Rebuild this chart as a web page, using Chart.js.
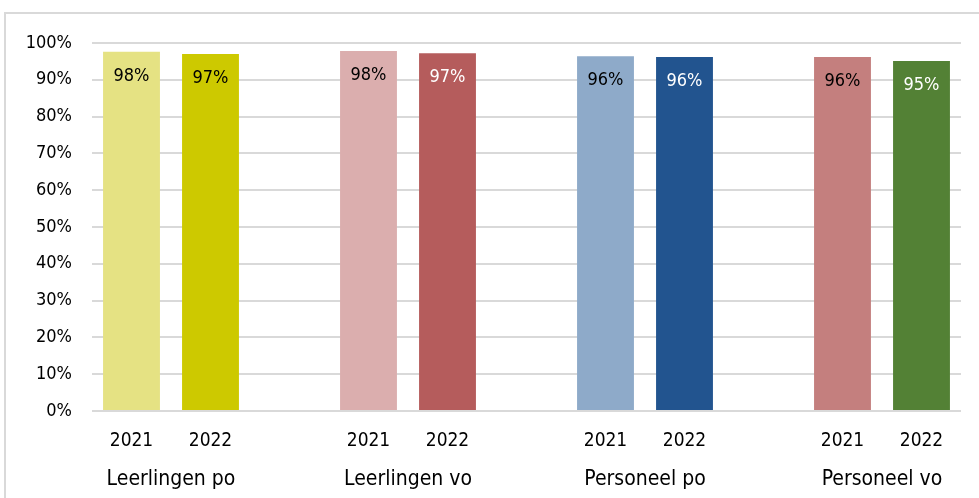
<!DOCTYPE html>
<html>
<head>
<meta charset="utf-8">
<script src="https://cdn.jsdelivr.net/npm/chart.js@4"></script>
<style>
  body { margin: 0; background: #fff; overflow: hidden; }
  #frame { position: absolute; left: 4px; top: 12px; width: 1100px; height: 600px; border: 2px solid #d9d9d9; }
  #wrap { position: absolute; left: 0; top: 0; width: 979px; height: 498px; }
</style>
</head>
<body>
<div id="frame"></div>
<div id="wrap"><canvas id="chart"></canvas></div>
<script>
// Groups and years
const groups = ['Leerlingen po', 'Leerlingen vo', 'Personeel po', 'Personeel vo'];
const years = ['2021', '2022'];
const values2021 = [97.6, 97.8, 96.4, 96.2];
const values2022 = [97.0, 97.2, 96.2, 95.1];
const colors2021 = ['#e5e283', '#dbaeae', '#8eaac9', '#c47f7e'];
const colors2022 = ['#cdc900', '#b55c5c', '#22548f', '#538135'];
const labelColors2021 = ['#000', '#000', '#000', '#000'];
const labelColors2022 = ['#000', '#fff', '#fff', '#fff'];
const yTicks = [0, 10, 20, 30, 40, 50, 60, 70, 80, 90, 100];

// build slots: 2021, 2022, gap, ...
const labels = [], data = [], bg = [], lblColor = [], groupPos = [];
groups.forEach((g, i) => {
    if (i > 0) { labels.push(''); data.push(null); bg.push('transparent'); lblColor.push('#000'); }
    groupPos.push(labels.length + 0.5);
    labels.push(years[0]); data.push(values2021[i]); bg.push(colors2021[i]); lblColor.push(labelColors2021[i]);
    labels.push(years[1]); data.push(values2022[i]); bg.push(colors2022[i]); lblColor.push(labelColors2022[i]);
});

const font = 'DejaVu Sans Condensed';

const barLabels = {
    id: 'barLabels',
    afterDraw(chart) {
        const ctx = chart.ctx;
        const meta = chart.getDatasetMeta(0);
        ctx.save();
        ctx.font = '18px "Liberation Sans Narrow", "' + font + '"';
        ctx.textAlign = 'center';
        ctx.textBaseline = 'middle';
        meta.data.forEach((bar, i) => {
            if (data[i] == null) return;
            ctx.fillStyle = lblColor[i];
            ctx.fillText(Math.round(data[i]) + '%', bar.x, bar.y + 24);
        });
        ctx.restore();
    }
};

const ctx = document.getElementById('chart').getContext('2d');
const chart = new Chart(ctx, {
    type: 'bar',
    data: {
        labels: labels,
        datasets: [{
            data: data,
            backgroundColor: bg,
            barPercentage: 0.72,
            categoryPercentage: 1.0
        }]
    },
    options: {
        responsive: true,
        maintainAspectRatio: false,
        animation: false,
        layout: { padding: { top: 43, right: 18, left: 0, bottom: 0 } },
        plugins: { legend: { display: false }, tooltip: { enabled: false } },
        scales: {
            x: {
                weight: 0,
                grid: { display: false, drawTicks: false },
                border: { display: false },
                ticks: { padding: 19, color: '#000', font: { family: font, size: 19 }, maxRotation: 0, autoSkip: false },
                afterFit(s) { s.height = 38; }
            },
            x2: {
                type: 'linear',
                position: 'bottom',
                weight: 1,
                offset: false,
                min: -0.5,
                max: labels.length - 0.5,
                grid: { display: false, drawTicks: false, offset: false },
                border: { display: false },
                afterBuildTicks(s) { s.ticks = groupPos.map(v => ({ value: v })); },
                ticks: {
                    padding: 18, color: '#000', font: { family: font, size: 21 }, maxRotation: 0, autoSkip: false,
                    callback: (v) => groups[groupPos.indexOf(v)]
                },
                afterFit(s) { s.height = 49; }
            },
            y: {
                min: 0,
                max: 100,
                z: 1,
                afterBuildTicks(s) { s.ticks = yTicks.map(v => ({ value: v })); },
                grid: { color: 'rgba(0,0,0,0.15)', lineWidth: 2, drawTicks: false },
                border: { display: false },
                ticks: { padding: 20, color: '#000', font: { family: font, size: 18 }, callback: v => v + '%' },
                afterFit(s) { s.width = 92; }
            }
        }
    },
    plugins: [barLabels]
});
</script>
</body>
</html>
